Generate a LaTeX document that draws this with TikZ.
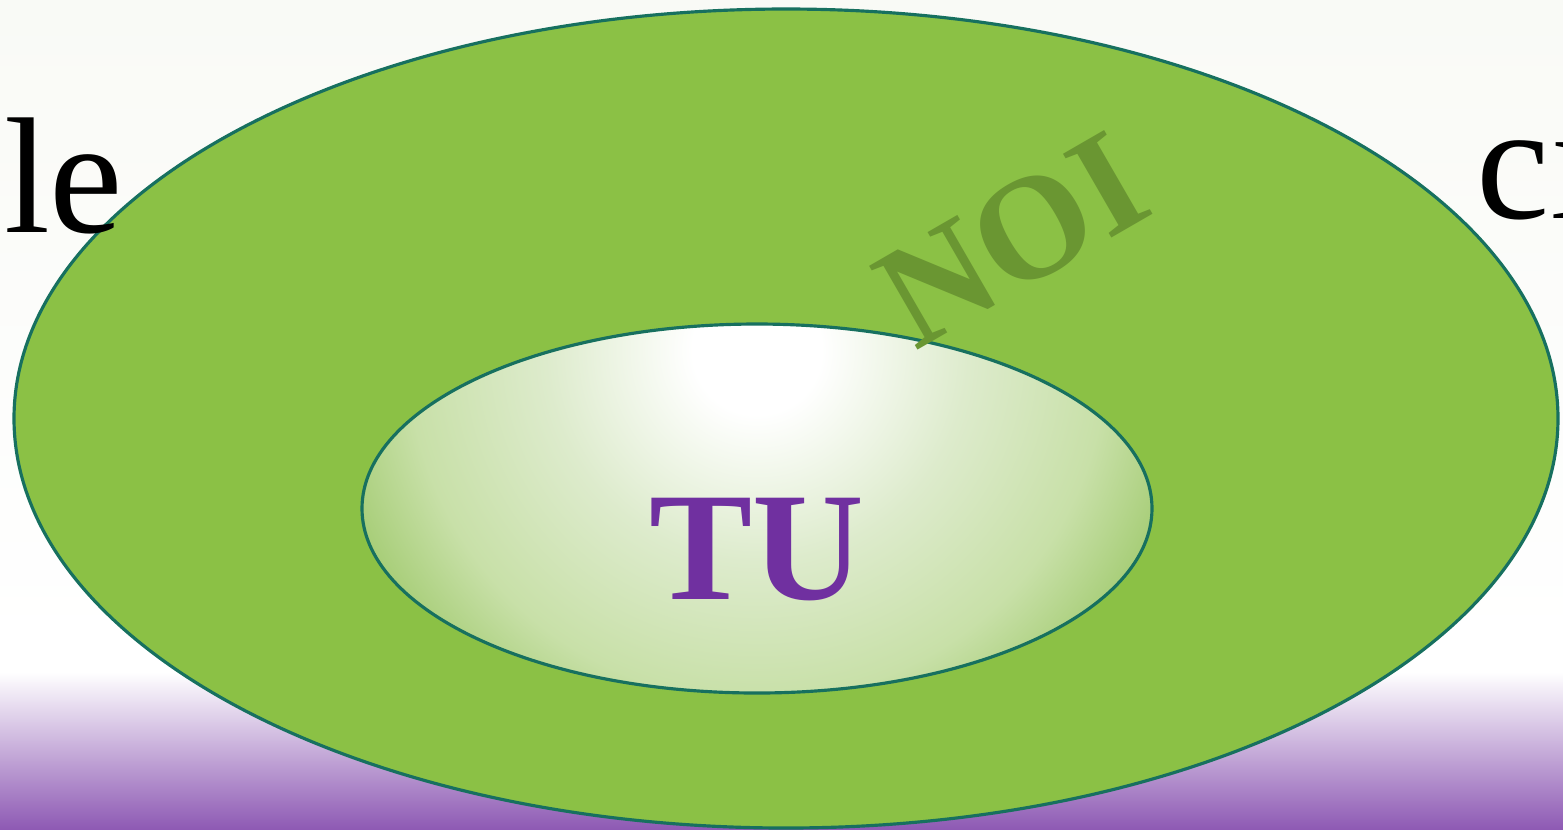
\documentclass[tikz,border=0pt]{standalone}
\usepackage{fontspec}
\setmainfont{Liberation Serif}
\definecolor{leafgreen}{HTML}{8BC145}
\definecolor{rimteal}{HTML}{17705F}
\definecolor{noigreen}{HTML}{6A9632}
\definecolor{tupurple}{HTML}{7030A0}
\definecolor{floorpurple}{HTML}{8E5AB4}
\definecolor{paper}{HTML}{F9FAF6}
\definecolor{tumid}{HTML}{DDEBCC}
\definecolor{tulow}{HTML}{C8E0A8}
\definecolor{tuedge}{HTML}{A8CE79}
\pgfdeclareradialshading{tuglow}{\pgfpointorigin}{color(0bp)=(white); color(3.5bp)=(white); color(11.5bp)=(tumid); color(19bp)=(tulow); color(23.5bp)=(tuedge); color(50bp)=(tuedge)}

\begin{document}
\begin{tikzpicture}[x=0.01cm, y=-0.01cm,
    rim/.style={draw=rimteal, line width=0.9pt},
    bigword/.style={font=\fontsize{47}{50}\selectfont, text=black, inner sep=0pt}]

    \useasboundingbox (0,0) rectangle (1563,829);
    \clip (0,0) rectangle (1563,829);

    % backdrop
    \shade[top color=paper, bottom color=white] (0,0) rectangle (1563,650);
    \fill[white] (0,650) rectangle (1563,672);
    \shade[top color=white, bottom color=floorpurple] (0,672) rectangle (1563,829);

    \coordinate (big) at (786,418.5);
    \coordinate (small) at (757,508.5);
    \coordinate (glow) at (757,350);

    \draw[rim, fill=leafgreen] (big) ellipse [x radius=772, y radius=409.5];

    \node[bigword, anchor=base east] (le) at (124,232) {le};
    \node[bigword, anchor=base west] (ci) at (1476,218) {ci};

    % inner ring
    \begin{scope}
        \clip (small) ellipse [x radius=395, y radius=184.5];
        \shade[shading=tuglow] (glow) circle [radius=460];
    \end{scope}
    \draw[rim] (small) ellipse [x radius=395, y radius=184.5];

    \node[rotate=30, text=noigreen, font=\bfseries\fontsize{42}{46}\selectfont] (noi) at (1012,240) {NOI};
    \node[text=tupurple, font=\bfseries\fontsize{44}{48}\selectfont] (tu) at (757,550) {TU};

\end{tikzpicture}
\end{document}
